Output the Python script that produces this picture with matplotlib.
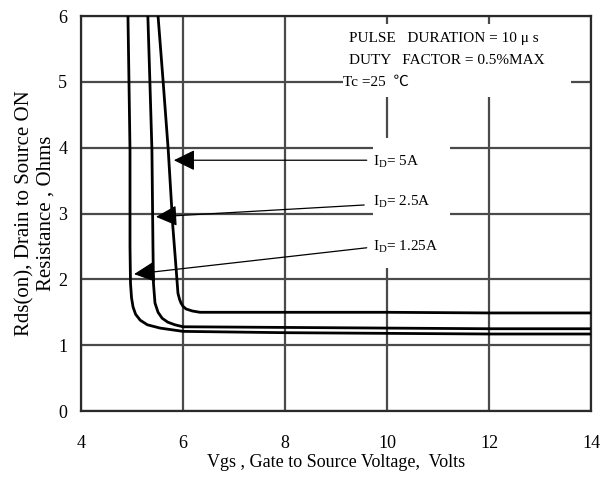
import matplotlib
matplotlib.use('Agg')
import matplotlib.pyplot as plt
from matplotlib.patches import Rectangle

plt.rcParams['font.family'] = ['Liberation Serif', 'DejaVu Serif']
plt.rcParams['mathtext.fontset'] = 'stix'

# Rds(on) vs Vgs, three drain currents
vgs_125 = [4.92, 4.94, 4.96, 4.96, 4.97, 4.99, 5.02, 5.07, 5.16, 5.3, 5.55, 6.0, 8.0, 10.0, 12.0, 14.0]
rds_125 = [6.0, 5.0, 3.96, 2.5, 1.94, 1.72, 1.58, 1.47, 1.38, 1.31, 1.26, 1.21, 1.19, 1.18, 1.17, 1.17]

vgs_25 = [5.31, 5.35, 5.39, 5.41, 5.42, 5.45, 5.51, 5.59, 5.7, 5.84, 6.0, 8.0, 10.0, 12.0, 14.0]
rds_25 = [6.0, 5.0, 3.96, 2.5, 1.94, 1.64, 1.5, 1.41, 1.35, 1.31, 1.28, 1.27, 1.26, 1.25, 1.25]

vgs_5 = [5.51, 5.61, 5.71, 5.8, 5.87, 5.9, 5.93, 5.96, 6.0, 6.06, 6.18, 6.33, 8.0, 10.0, 12.0, 14.0]
rds_5 = [6.0, 5.0, 3.96, 2.8, 2.1, 1.79, 1.7, 1.64, 1.59, 1.55, 1.52, 1.5, 1.5, 1.5, 1.49, 1.49]

labels = [r'$\mathregular{I_D}$= 5A', r'$\mathregular{I_D}$= 2.5A', r'$\mathregular{I_D}$= 1.25A']
arrow_tips = [(5.82, 3.81), (5.47, 2.95), (5.04, 2.08)]
arrow_tails = [(9.6, 3.81), (9.55, 3.13), (9.6, 2.48)]
label_pos = [(9.72, 3.79), (9.72, 3.17), (9.72, 2.50)]

xticks = [4, 6, 8, 10, 12, 14]
yticks = [0, 1, 2, 3, 4, 5, 6]

note_lines = ['PULSE   DURATION = 10 μ s', 'DUTY   FACTOR = 0.5%MAX', 'Tc =25  ℃']
note_y = [5.66, 5.33, 5.0]

fig = plt.figure(figsize=(6.11, 4.87), dpi=100)
ax = fig.add_axes([0.1326, 0.156, 0.835, 0.811])

ax.set_xlim(4, 14)
ax.set_ylim(0, 6)
ax.set_xticks(xticks)
ax.set_yticks(yticks)
ax.tick_params(length=0, labelsize=13)
ax.tick_params(axis='x', pad=17)
ax.tick_params(axis='y', pad=10)
ax.grid(True, color='#4a4a4a', linewidth=1.6, zorder=0)
ax.set_axisbelow(True)
for s in ax.spines.values():
    s.set_color('#2a2a2a')
    s.set_linewidth(1.6)

# white areas where the gridlines are broken by the text
ax.add_patch(Rectangle((9.14, 4.77), 4.46, 1.11, facecolor='white', edgecolor='none', zorder=1))
ax.add_patch(Rectangle((9.72, 2.17), 1.52, 1.98, facecolor='white', edgecolor='none', zorder=1))

for xs, ys in [(vgs_125, rds_125), (vgs_25, rds_25), (vgs_5, rds_5)]:
    ax.plot(xs, ys, color='black', linewidth=2.0, zorder=3)

for lab, tip, tail, pos in zip(labels, arrow_tips, arrow_tails, label_pos):
    ax.annotate('', xy=tip, xytext=tail,
                arrowprops=dict(arrowstyle='-|>,head_length=0.65,head_width=0.32',
                                mutation_scale=20, color='black', lw=0.9,
                                shrinkA=0, shrinkB=0), zorder=4)
    ax.text(pos[0], pos[1], lab, fontsize=11, va='center', ha='left', zorder=4)

for line, y in zip(note_lines, note_y):
    x0 = 9.14 if line.startswith('Tc') else 9.25
    ax.text(x0, y, line, fontsize=11, va='center', ha='left', zorder=4,
            family=['Liberation Serif', 'Noto Sans CJK SC', 'DejaVu Serif'])

ax.set_xlabel('Vgs , Gate to Source Voltage,  Volts', fontsize=13, labelpad=2)
ax.set_ylabel('Rds(on), Drain to Source ON\nResistance , Ohms', fontsize=15, labelpad=2,
              linespacing=1.1)

fig.savefig('out.png', dpi=100)
